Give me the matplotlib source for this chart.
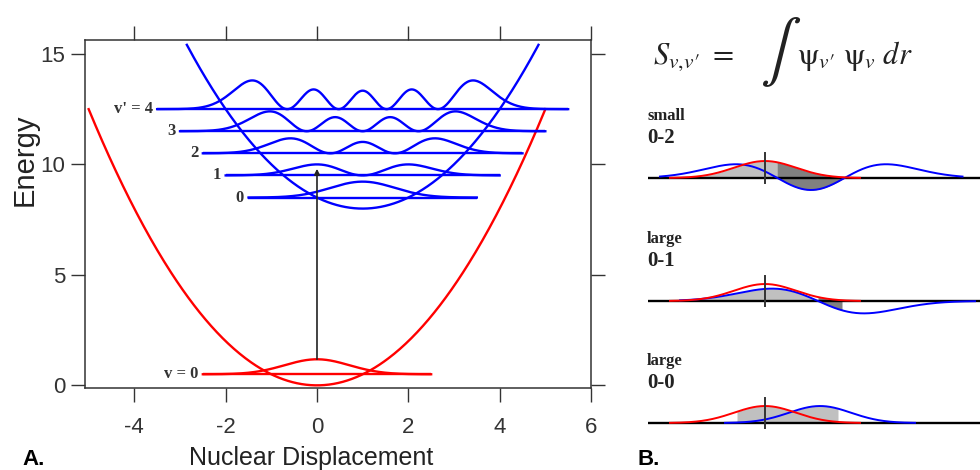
import numpy as np
import matplotlib.pyplot as plt
from math import factorial

plt.rcParams['font.family'] = ['Liberation Sans', 'DejaVu Sans']
plt.rcParams['mathtext.fontset'] = 'stix'
plt.rcParams['axes.unicode_minus'] = False

# ---- panel A: potential curves and levels ----
ground_center = 0.0        # displacement of ground-state minimum
ground_floor = 0.0         # energy at ground-state minimum
ground_span = (-5.0, 5.0)
excited_center = 1.0
excited_floor = 8.0
excited_span = (-2.85, 4.85)
curvature = 0.5            # V = floor + curvature * (x - center)^2

ground_levels = [0.5]
ground_half_width = [2.5]
ground_peak = [0.68]
ground_labels = ["v = 0"]

excited_levels = [8.5, 9.5, 10.5, 11.5, 12.5]
excited_half_width = [2.5, 3.0, 3.5, 4.0, 4.5]
excited_peak = [0.72, 0.5, 0.68, 0.9, 1.3]
excited_labels = ["0", "1", "2", "3", "v' = 4"]

x_ticks = [-4, -2, 0, 2, 4, 6]
y_ticks = [0, 5, 10, 15]

# ---- panel B: overlap sketches ----
overlap_size = ["small", "large", "large"]
overlap_pair = ["0-2", "0-1", "0-0"]
upper_state = [2, 1, 0]
upper_sign = [1, -1, 1]
upper_shift = [0.92, 1.06, 1.1]
upper_width = [0.95, 0.92, 0.62]
upper_amp = [1.0, 0.85, 1.0]
upper_span = [(-2.1, 3.95), (-1.7, 4.2), (-0.8, 3.0)]
lower_width = 0.62
lower_span = (-1.9, 1.9)
light_range = [(-1.64, 0.24), (-1.24, 1.06), (-0.56, 1.46)]
light_top = ["red", "min", "max"]
dark_range = [(0.24, 1.7), (1.06, 1.54), None]


def psi(n, x):
    # normalised harmonic oscillator wavefunction
    h = np.polynomial.hermite.hermval(x, [0] * n + [1])
    return h * np.exp(-x ** 2 / 2) / np.sqrt(2 ** n * factorial(n) * np.sqrt(np.pi))


fig = plt.figure(figsize=(9.8, 4.7), dpi=100)
W, H = 980, 470

ax = fig.add_axes([85 / W, 1 - 388 / H, 506 / W, 348 / H])

# potentials
xg = np.linspace(*ground_span, 400)
ax.plot(xg, ground_floor + curvature * (xg - ground_center) ** 2, color='red', lw=1.7)
xe = np.linspace(*excited_span, 400)
ax.plot(xe, excited_floor + curvature * (xe - excited_center) ** 2, color='blue', lw=1.7)


def draw_levels(levels, half, peak, labels, center, color):
    for n, (e, hw, p, lab) in enumerate(zip(levels, half, peak, labels)):
        xs = np.linspace(center - hw, center + hw, 600)
        dens = psi(n, xs - center) ** 2
        ax.plot(xs, e + p * dens / dens.max(), color=color, lw=1.7)
        ax.hlines(e, center - hw, center + hw, color=color, lw=1.7)
        ax.text(center - hw - 0.1, e, lab, ha='right', va='center',
                family='Liberation Serif', weight='bold', fontsize=12, color='#333')


draw_levels(ground_levels, ground_half_width, ground_peak, ground_labels, ground_center, 'red')
draw_levels(excited_levels, excited_half_width, excited_peak, excited_labels, excited_center, 'blue')

# vertical transition arrow
ax.annotate('', xy=(ground_center, excited_levels[1] + 0.3),
            xytext=(ground_center, ground_levels[0] + ground_peak[0]),
            arrowprops=dict(arrowstyle='-|>', color='#222', lw=1.2,
                            mutation_scale=8, shrinkA=0, shrinkB=0))

ax.set_xlim(-5.08, 6.0)
ax.set_ylim(-0.12, 15.63)
ax.set_xticks(x_ticks)
ax.set_yticks(y_ticks)
ax.tick_params(direction='out', length=10, width=1.0, color='#333',
               top=True, right=True, labelsize=16, labelcolor='#333')
ax.tick_params(axis='x', pad=11)
ax.tick_params(axis='y', pad=4)
for s in ax.spines.values():
    s.set_color('#333')
    s.set_linewidth(1.1)
ax.set_xlabel('Nuclear Displacement', fontsize=18, color='#222')
ax.xaxis.set_label_coords(0.447, -0.168)
ax.set_ylabel('Energy', fontsize=21, color='#222')
ax.yaxis.set_label_coords(-0.092, 0.655)

fig.text(22 / W, 1 - 465 / H, 'A.', fontsize=16, weight='bold')
fig.text(637 / W, 1 - 465 / H, 'B.', fontsize=16, weight='bold')

# ---- panel B ----
fig.text(653 / W, 1 - 64 / H, r'$S_{v,\!v\prime}\ =$', fontsize=22, color='#222')
fig.text(760 / W, 1 - 52 / H, r'$\int$', fontsize=44, va='center', color='#222')
fig.text(797 / W, 1 - 64 / H, r'$\mathrm{\psi}_{v\prime}\ \mathrm{\psi}_{v}\ dr$', fontsize=22, color='#222')

baselines = [178, 301, 423]
unit = 50.0   # px per displacement unit
amp = 22.6    # px per wavefunction unit
for i, b in enumerate(baselines):
    bx = fig.add_axes([648 / W, 1 - (b + 15) / H, 332 / W, 60 / H])
    bx.set_xlim(-(765 - 648) / unit, (980 - 765) / unit)
    bx.set_ylim(-15 / amp, 45 / amp)
    bx.axis('off')

    def red_f(x):
        return psi(0, x / lower_width)

    def blue_f(x, i=i):
        return upper_sign[i] * upper_amp[i] * psi(upper_state[i], (x - upper_shift[i]) / upper_width[i])

    xf = np.linspace(*light_range[i], 300)
    if light_top[i] == "red":
        top = red_f(xf)
    elif light_top[i] == "min":
        top = np.minimum(red_f(xf), blue_f(xf))
    else:
        top = np.maximum(red_f(xf), blue_f(xf))
    bx.fill_between(xf, 0, np.clip(top, 0, None), color='#c0c0c0', lw=0)
    if dark_range[i] is not None:
        xd = np.linspace(*dark_range[i], 200)
        bx.fill_between(xd, np.minimum(blue_f(xd), 0), red_f(xd), color='#808080', lw=0)

    bx.axhline(0, color='black', lw=1.7)
    xb = np.linspace(*upper_span[i], 500)
    bx.plot(xb, blue_f(xb), color='blue', lw=1.4)
    xr = np.linspace(*lower_span, 300)
    bx.plot(xr, red_f(xr), color='red', lw=1.4)
    bx.plot([0, 0], [-5 / amp, 25 / amp], color='#333', lw=1.4)

    fig.text(647 / W, 1 - (b - 62) / H, overlap_size[i], family='Liberation Serif',
             weight='bold', fontsize=12, va='center', color='#222')
    fig.text(647 / W, 1 - (b - 40) / H, overlap_pair[i], family='Liberation Serif',
             weight='bold', fontsize=15, va='center', color='#222')

fig.savefig('out.png', dpi=100)
